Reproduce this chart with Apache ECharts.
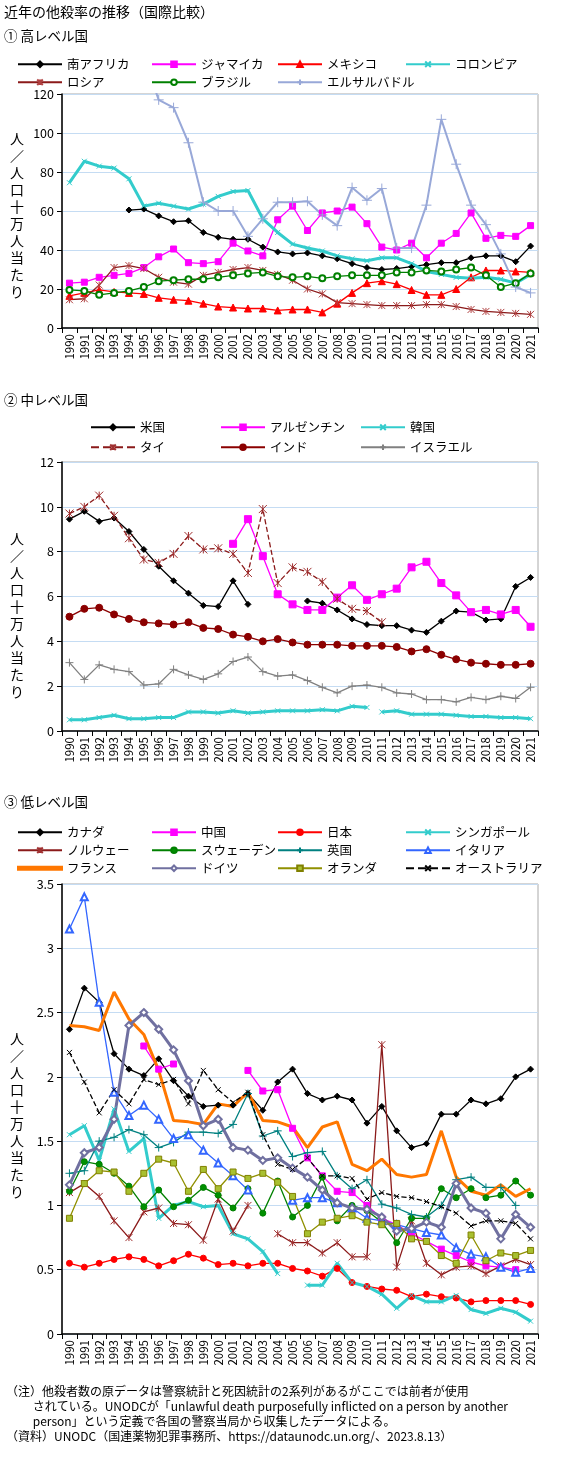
<!DOCTYPE html>
<html>
<head>
<meta charset="utf-8">
<script src="https://cdn.jsdelivr.net/npm/echarts@6/dist/echarts.min.js"></script>
<style>
  html, body { margin: 0; padding: 0; background: #fff; }
  #chart { width: 564px; height: 1467px; }
</style>
</head>
<body>
<div id="chart"></div>
<script>
// 年（横軸）
const years = []
for (let y = 1990; y <= 2021; y++) years.push(String(y))

const _ = null

// ① 高レベル国
const southAfrica = [_,_,_,_,60.5,61,57.5,54.5,55,49,46.5,45.5,45.5,41.5,39,38,38.5,37,35.5,33,31,30,30.5,31.5,32.5,33.5,33.5,36,37,37,34,42]
const jamaica = [23,23.5,26,27,28,31,36.5,40.5,33.5,33,34,43.5,39.5,37,55.5,62.5,50,59,60,62,53.5,41.5,40,43.5,36,43.5,48.5,59,46,47.5,47,52.5]
const mexico = [16.5,18,19.5,18.5,18,17.5,15.5,14.5,14,12.5,11,10.5,10,10,9,9.5,9.5,8,12.5,18,23,24,22.5,19.5,17,17,20,26,29.5,29.5,29,28.5]
const colombia = [74.5,85.5,83,82,76.5,62.5,64,62.5,61,63.5,67.5,70,70.5,56,49,43,41,39.5,37,35.5,34.5,36,36,33,29,27.5,26,25.5,26,25,23,27.5]
const russia = [14.5,15,22,31,32,30.5,26,23.5,22.5,27,28.5,30,31,29.5,27.5,24.5,20,17.5,13,12.5,12,11.5,11.5,11.5,12,12,11,9.5,8.5,8,7.5,7]
const brazil = [19.5,19,17,18,19,21,24,24.5,25,25,26,27,28,28.5,26.5,26,26.5,25.5,26.5,27,27,27,28.5,28.5,29.5,29,30,31,27,21,23,28]
const elSalvador = [_,_,_,_,_,139,117,113,95,64.5,60,60,47,56,64.5,64.5,65,58,52.5,72,65.5,71.5,41,41,63,107,84,63,53,38,21,18]

// ② 中レベル国
const usa = [9.45,9.8,9.35,9.5,8.9,8.1,7.35,6.7,6.15,5.6,5.55,6.7,5.65,_,_,_,5.8,5.7,5.4,5.0,4.75,4.7,4.7,4.5,4.4,4.9,5.35,5.3,4.95,5.0,6.45,6.85]
const argentina = [_,_,_,_,_,_,_,_,_,_,_,8.35,9.45,7.8,6.1,5.65,5.4,5.4,5.95,6.5,5.85,6.1,6.35,7.3,7.55,6.6,6.05,5.3,5.4,5.2,5.4,4.65]
const korea = [0.5,0.5,0.6,0.7,0.55,0.55,0.6,0.6,0.85,0.85,0.8,0.9,0.8,0.85,0.9,0.9,0.9,0.95,0.9,1.1,1.05,_,_,_,_,_,_,_,_,_,_,_]
const korea2 = [_,_,_,_,_,_,_,_,_,_,_,_,_,_,_,_,_,_,_,_,_,0.85,0.9,0.75,0.75,0.75,0.7,0.65,0.65,0.6,0.6,0.55]
const thailand = [9.7,10.0,10.5,9.6,8.6,7.65,7.5,7.9,8.7,8.1,8.15,7.9,7.05,9.9,6.6,7.3,7.1,6.65,5.9,5.45,5.35,4.85,_,_,_,_,_,_,_,_,_,_]
const india = [5.1,5.45,5.5,5.2,5.0,4.85,4.8,4.75,4.85,4.6,4.55,4.3,4.2,4.0,4.1,3.95,3.85,3.85,3.85,3.8,3.8,3.8,3.75,3.55,3.65,3.4,3.2,3.05,3.0,2.95,2.95,3.0]
const israel = [3.05,2.3,2.95,2.75,2.65,2.05,2.1,2.75,2.5,2.3,2.55,3.1,3.3,2.65,2.45,2.5,2.25,1.95,1.7,2.0,2.05,1.95,1.7,1.65,1.4,1.4,1.3,1.5,1.4,1.55,1.45,1.95]

// ③ 低レベル国
const canada = [2.37,2.69,2.58,2.18,2.06,2.01,2.14,1.97,1.85,1.77,1.78,1.78,1.87,1.74,1.96,2.06,1.87,1.82,1.85,1.82,1.64,1.77,1.58,1.45,1.48,1.71,1.71,1.82,1.79,1.83,2.0,2.06]
const china = [_,_,_,_,_,2.24,2.06,2.1,_,_,_,_,2.05,1.89,1.9,1.6,1.37,1.23,1.11,1.1,1.0,0.9,0.85,0.78,0.72,0.66,0.61,0.56,0.53,0.52,0.5,_]
const japan = [0.55,0.52,0.55,0.58,0.6,0.58,0.53,0.57,0.62,0.59,0.54,0.55,0.53,0.55,0.55,0.51,0.49,0.45,0.51,0.4,0.37,0.35,0.34,0.29,0.31,0.29,0.28,0.25,0.26,0.26,0.26,0.23]
const singapore = [1.55,1.62,1.35,1.75,1.42,1.52,0.9,1.0,1.03,0.99,1.0,0.78,0.74,0.64,0.47,_,0.38,0.38,0.55,0.4,0.37,0.31,0.2,0.3,0.25,0.25,0.3,0.19,0.16,0.2,0.17,0.1]
const norway = [1.1,1.17,1.07,0.88,0.75,0.95,0.98,0.86,0.85,0.73,1.05,0.8,1.0,_,0.78,0.71,0.71,0.63,0.71,0.6,0.6,2.25,0.52,0.88,0.55,0.46,0.52,0.53,0.47,0.53,0.58,0.54]
const sweden = [1.11,1.34,1.32,1.25,1.15,0.99,1.12,0.99,1.04,1.14,1.08,0.98,1.13,0.94,1.19,0.91,1.0,1.22,0.88,1.0,0.96,0.87,0.71,0.9,0.9,1.13,1.06,1.13,1.06,1.08,1.19,1.08]
const uk = [1.25,1.27,1.5,1.53,1.59,1.55,1.45,1.49,1.57,1.57,1.56,1.63,1.87,1.54,1.58,1.38,1.41,1.42,1.23,1.13,1.2,1.01,0.98,0.93,0.91,1.0,1.2,1.22,1.14,1.14,1.0,_]
const italy = [3.15,3.4,2.58,1.88,1.7,1.78,1.67,1.52,1.55,1.43,1.33,1.23,1.12,_,_,1.04,1.06,1.06,1.02,0.98,0.9,0.88,0.85,0.82,0.79,0.77,0.67,0.62,0.6,0.52,0.48,0.51]
const france = [2.4,2.39,2.36,2.66,2.45,2.33,2.05,1.66,1.65,1.63,1.79,1.77,1.88,1.66,1.65,1.61,1.45,1.61,1.65,1.32,1.27,1.36,1.24,1.22,1.24,1.58,1.22,1.11,1.08,1.16,1.07,1.13]
const germany = [1.16,1.41,1.45,1.67,2.4,2.5,2.37,2.21,1.97,1.62,1.67,1.45,1.43,1.35,1.37,1.29,1.22,1.12,1.02,0.98,0.97,0.91,0.8,0.82,0.87,0.83,1.17,0.98,0.94,0.74,0.93,0.83]
const netherlands = [0.9,1.17,1.27,1.26,1.11,1.25,1.36,1.33,1.11,1.28,1.13,1.26,1.21,1.25,1.18,1.07,0.78,0.87,0.9,0.92,0.87,0.85,0.86,0.74,0.72,0.61,0.55,0.77,0.57,0.63,0.61,0.65]
const australia = [2.19,1.96,1.72,1.9,1.79,1.98,1.94,1.98,1.79,2.05,1.9,1.8,1.88,1.55,1.32,1.28,1.37,1.23,1.23,1.21,1.05,1.1,1.07,1.06,1.03,0.99,0.94,0.84,0.88,0.88,0.86,0.74]

const FONT = '"Noto Sans CJK JP", sans-serif'

// 記号
const X_MARK = 'path://M0,0L10,10M10,0L0,10'
const PLUS = 'path://M5,0L5,10M0,5L10,5'
const STAR = 'path://M0,0L10,10M10,0L0,10M5,0L5,10'

function line(name, data, idx, color, opt = {}) {
  const stroked = opt.stroked
  return {
    name,
    type: 'line',
    xAxisIndex: idx,
    yAxisIndex: idx,
    data,
    symbol: opt.symbol || 'circle',
    symbolSize: opt.size || 6,
    showSymbol: true,
    lineStyle: { color, width: opt.width || 1.3, type: opt.dash ? 'dashed' : 'solid' },
    itemStyle: stroked
      ? { color: 'rgba(0,0,0,0)', borderColor: opt.markColor || color, borderWidth: 1 }
      : { color: opt.fill || color, borderColor: opt.markColor || color, borderWidth: 1 },
    emphasis: { disabled: true },
    animation: false
  }
}

function legendAt(name, left, top, icon) {
  return {
    data: [icon ? { name, icon } : name], left, top,
    itemWidth: 44, itemHeight: icon ? 3 : 7, itemGap: 4,
    textStyle: { fontSize: 12.5, fontFamily: FONT, color: '#000' },
    selectedMode: false
  }
}

function axes(idx, max, interval) {
  return {
    x: {
      type: 'category', gridIndex: idx, data: years, boundaryGap: true,
      axisLine: { lineStyle: { color: '#000', width: 1.5 } },
      axisTick: { show: true, interval: 0, lineStyle: { color: '#000' } },
      axisLabel: { rotate: 90, interval: 0, fontSize: 11.5, fontFamily: FONT, color: '#000', margin: 6 }
    },
    y: {
      type: 'value', gridIndex: idx, min: 0, max, interval,
      axisLine: { show: true, lineStyle: { color: '#000', width: 1.5 } },
      axisTick: { show: true, lineStyle: { color: '#000' } },
      axisLabel: { fontSize: 12.5, fontFamily: FONT, color: '#000' },
      splitLine: { lineStyle: { color: '#c5dcf3', width: 1.2 } }
    }
  }
}

const a1 = axes(0, 120, 20), a2 = axes(1, 12, 2), a3 = axes(2, 3.5, 0.5)
const yName = '人／人口十万人当たり'.split('').join('\n')

function txt(left, top, text, size) {
  return { type: 'text', left, top, style: { text, fontSize: size || 13, fontFamily: FONT, fill: '#000', lineHeight: (size || 13) + 3 } }
}

const option = {
  animation: false,
  backgroundColor: '#fff',
  grid: [
    { left: 62, top: 94, right: 26, height: 234, show: true, borderColor: '#aaa', borderWidth: 1 },
    { left: 62, top: 462, right: 26, height: 269, show: true, borderColor: '#aaa', borderWidth: 1 },
    { left: 62, top: 884, right: 26, height: 450, show: true, borderColor: '#aaa', borderWidth: 1 }
  ],
  xAxis: [a1.x, a2.x, a3.x],
  yAxis: [a1.y, a2.y, a3.y],
  legend: [
    legendAt('南アフリカ', 12, 53), legendAt('ジャマイカ', 146, 53), legendAt('メキシコ', 272, 53), legendAt('コロンビア', 400, 53),
    legendAt('ロシア', 12, 71), legendAt('ブラジル', 146, 71), legendAt('エルサルバドル', 272, 71),
    legendAt('米国', 85, 416), legendAt('アルゼンチン', 215, 416), legendAt('韓国', 355, 416),
    legendAt('タイ', 85, 436), legendAt('インド', 215, 436), legendAt('イスラエル', 355, 436),
    legendAt('カナダ', 12, 821), legendAt('中国', 146, 821), legendAt('日本', 272, 821), legendAt('シンガポール', 400, 821),
    legendAt('ノルウェー', 12, 839), legendAt('スウェーデン', 146, 839), legendAt('英国', 272, 839), legendAt('イタリア', 400, 839),
    legendAt('フランス', 12, 857, 'rect'), legendAt('ドイツ', 146, 857), legendAt('オランダ', 272, 857), legendAt('オーストラリア', 400, 857)
  ],
  graphic: [
    txt(4, 3, '近年の他殺率の推移（国際比較）', 14),
    txt(4, 28, '① 高レベル国', 13.5),
    txt(4, 392, '② 中レベル国', 13.5),
    txt(4, 794, '③ 低レベル国', 13.5),
    txt(10, 130, yName, 14),
    txt(10, 530, yName, 14),
    txt(10, 1030, yName, 14),
    txt(6, 1384, '（注）他殺者数の原データは警察統計と死因統計の2系列があるがここでは前者が使用\n　　 されている。UNODCが「unlawful death purposefully inflicted on a person by another\n　　 person」という定義で各国の警察当局から収集したデータによる。\n（資料）UNODC（国連薬物犯罪事務所、https://dataunodc.un.org/、2023.8.13）', 12)
  ],
  series: [
    line('南アフリカ', southAfrica, 0, '#000', { symbol: 'diamond', size: 6 }),
    line('ジャマイカ', jamaica, 0, '#ff00ff', { symbol: 'rect', size: 6 }),
    line('メキシコ', mexico, 0, '#ff0000', { symbol: 'triangle', size: 7 }),
    line('コロンビア', colombia, 0, '#33cccc', { symbol: X_MARK, size: 5, width: 3, stroked: true }),
    line('ロシア', russia, 0, '#8b1a1a', { symbol: STAR, size: 7, stroked: true, markColor: '#b04040' }),
    line('ブラジル', brazil, 0, '#008000', { symbol: 'emptyCircle', size: 6 }),
    line('エルサルバドル', elSalvador, 0, '#98a8d8', { symbol: PLUS, size: 10, width: 2, stroked: true }),

    line('米国', usa, 1, '#000', { symbol: 'diamond', size: 6 }),
    line('アルゼンチン', argentina, 1, '#ff00ff', { symbol: 'rect', size: 7 }),
    line('韓国', korea, 1, '#33cccc', { symbol: X_MARK, size: 5, width: 3, stroked: true }),
    line('韓国2', korea2, 1, '#33cccc', { symbol: X_MARK, size: 5, width: 3, stroked: true }),
    line('タイ', thailand, 1, '#8b1a1a', { symbol: STAR, size: 8, dash: true, stroked: true, markColor: '#a03030' }),
    line('インド', india, 1, '#8b0000', { symbol: 'circle', size: 7 }),
    line('イスラエル', israel, 1, '#808080', { symbol: PLUS, size: 8, stroked: true }),

    line('カナダ', canada, 2, '#000', { symbol: 'diamond', size: 6 }),
    line('中国', china, 2, '#ff00ff', { symbol: 'rect', size: 6 }),
    line('日本', japan, 2, '#ff0000', { symbol: 'circle', size: 6 }),
    line('シンガポール', singapore, 2, '#33cccc', { symbol: X_MARK, size: 5, width: 3, stroked: true }),
    line('ノルウェー', norway, 2, '#8b1a1a', { symbol: STAR, size: 7, stroked: true, markColor: '#a03030' }),
    line('スウェーデン', sweden, 2, '#008000', { symbol: 'circle', size: 6, fill: '#009000' }),
    line('英国', uk, 2, '#008080', { symbol: PLUS, size: 8, stroked: true }),
    line('イタリア', italy, 2, '#3366ff', { symbol: 'emptyTriangle', size: 7 }),
    line('フランス', france, 2, '#ff7700', { symbol: 'none', width: 3 }),
    line('ドイツ', germany, 2, '#7070a0', { symbol: 'emptyDiamond', size: 7, width: 3 }),
    line('オランダ', netherlands, 2, '#909000', { symbol: 'rect', size: 6, fill: '#a8c030', markColor: '#808000' }),
    line('オーストラリア', australia, 2, '#000', { symbol: X_MARK, size: 5, dash: true, stroked: true })
  ]
}

const chart = echarts.init(document.getElementById('chart'))
chart.setOption(option)
</script>
</body>
</html>
